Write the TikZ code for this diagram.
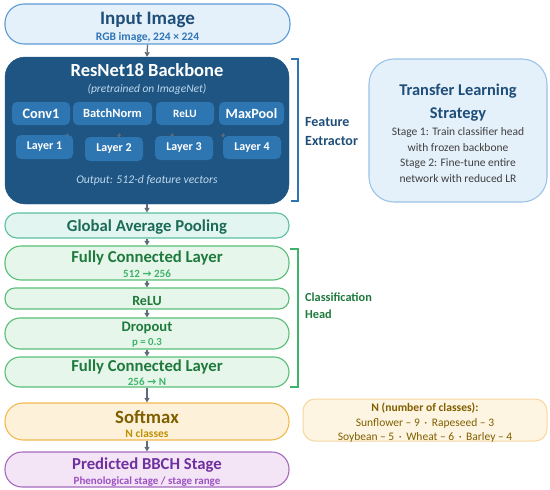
\documentclass[tikz,border=0pt]{standalone}
\usepackage{fontspec}
\setmainfont{Carlito}
\newfontfamily\symf{DejaVu Sans}
\usetikzlibrary{arrows.meta}
\definecolor{inFill}{HTML}{E4F0FA}
\definecolor{inDraw}{HTML}{5B9BD5}
\definecolor{navy}{HTML}{1F4E79}
\definecolor{inSub}{HTML}{2E75B6}
\definecolor{resFill}{HTML}{1F5582}
\definecolor{resInner}{HTML}{2E76B2}
\definecolor{resSub}{HTML}{BDD7EE}
\definecolor{trDraw}{HTML}{9DC3E6}
\definecolor{trText}{HTML}{404040}
\definecolor{gapFill}{HTML}{E3F5F1}
\definecolor{gapDraw}{HTML}{5BBFA0}
\definecolor{gapText}{HTML}{1B6B55}
\definecolor{fcFill}{HTML}{E7F6EA}
\definecolor{fcDraw}{HTML}{58BE76}
\definecolor{fcText}{HTML}{1E7A3C}
\definecolor{fcSub}{HTML}{3DB46A}
\definecolor{softFill}{HTML}{FDF2D9}
\definecolor{softDraw}{HTML}{F2B950}
\definecolor{softText}{HTML}{7F6000}
\definecolor{softSub}{HTML}{BF9000}
\definecolor{predFill}{HTML}{F3E5F6}
\definecolor{predDraw}{HTML}{A569BD}
\definecolor{predText}{HTML}{7030A0}
\definecolor{predSub}{HTML}{9B4FC4}
\definecolor{nFill}{HTML}{FDF4E1}
\definecolor{nDraw}{HTML}{F6D7A1}
\definecolor{arrGray}{HTML}{5F6B78}
\tikzset{
  box/.style={draw, line width=1.1pt, inner sep=0pt},
  inner/.style={fill=resInner, rounded corners=5pt, inner sep=0pt, text=white, font=\bfseries, minimum height=23pt},
  arr/.style={draw=arrGray, line width=1.2pt, -{Triangle[length=4.5pt,width=5pt]}},
  tinyarr/.style={draw=arrGray, line width=0.8pt, -{Triangle[length=3pt,width=4.5pt]}},
  txt/.style={inner sep=0pt, anchor=base},
}
\begin{document}
\begin{tikzpicture}[x=1pt,y=-1pt]
\useasboundingbox (0,0) rectangle (550,490);

% Input
\node[box, draw=inDraw, fill=inFill, rounded corners=19pt, minimum width=285pt, minimum height=40pt] (input) at (147.5,24) {};
\node[txt, text=navy, font=\bfseries\fontsize{19}{22}\selectfont] (inT) at (147.5,24.5) {Input Image};
\node[txt, text=inSub, font=\bfseries\fontsize{11.5}{13}\selectfont] (inS) at (147.5,40) {RGB image, 224 × 224};

% ResNet
\node[fill=resFill, draw=resFill, rounded corners=20pt, minimum width=284pt, minimum height=147pt, inner sep=0pt] (resnet) at (147,130.5) {};
\node[txt, text=white, font=\bfseries\fontsize{18.5}{21}\selectfont] (resT) at (147,76) {ResNet18 Backbone};
\node[txt, text=resSub, font=\itshape\fontsize{11.5}{13}\selectfont] (resP) at (147,92.5) {(pretrained on ImageNet)};
\node[inner, minimum width=58pt, font=\bfseries\fontsize{14.3}{16}\selectfont] (conv) at (41,113.5) {Conv1};
\node[inner, minimum width=79pt, font=\bfseries\fontsize{12.5}{14}\selectfont] (bn) at (112.5,113.5) {BatchNorm};
\node[inner, minimum width=58pt, font=\bfseries\fontsize{11.2}{13}\selectfont] (relu1) at (185,113.5) {ReLU};
\node[inner, minimum width=65pt, font=\bfseries\fontsize{14.1}{16}\selectfont] (mp) at (251.5,113.5) {MaxPool};
\coordinate (t1a) at (67,133); \coordinate (t1b) at (67,137.5);
\coordinate (t2a) at (119,133); \coordinate (t2b) at (119,137.5);
\coordinate (t3a) at (172,133); \coordinate (t3b) at (172,137.5);
\coordinate (t4a) at (223,133); \coordinate (t4b) at (223,137.5);
\draw[tinyarr] (t1a) -- (t1b);
\draw[tinyarr] (t2a) -- (t2b);
\draw[tinyarr] (t3a) -- (t3b);
\draw[tinyarr] (t4a) -- (t4b);
\node[inner, minimum width=57pt, minimum height=24pt, font=\bfseries\fontsize{12}{14}\selectfont] (l1) at (44.5,147) {Layer 1};
\node[inner, minimum width=58pt, minimum height=24pt, font=\bfseries\fontsize{12}{14}\selectfont] (l2) at (114,149) {Layer 2};
\node[inner, minimum width=58pt, minimum height=24pt, font=\bfseries\fontsize{12}{14}\selectfont] (l3) at (184,148) {Layer 3};
\node[inner, minimum width=58pt, minimum height=23pt, font=\bfseries\fontsize{12}{14}\selectfont] (l4) at (252,147.5) {Layer 4};
\node[txt, text=resSub, font=\itshape\fontsize{11.7}{13}\selectfont] (resO) at (147,183) {Output: 512-d feature vectors};

% Feature bracket
\coordinate (fb1) at (291,59); \coordinate (fb2) at (298,59);
\coordinate (fb3) at (298,201); \coordinate (fb4) at (291,201);
\draw[draw=inSub, line width=1.2pt] (fb1) -- (fb2) -- (fb3) -- (fb4);
\node[txt, anchor=base west, text=navy, font=\bfseries\fontsize{14}{16}\selectfont] (fe1) at (305,126.5) {Feature};
\node[txt, anchor=base west, text=navy, font=\bfseries\fontsize{14}{16}\selectfont] (fe2) at (305,145.5) {Extractor};

% Transfer learning box
\node[box, draw=trDraw, fill=inFill, rounded corners=25pt, minimum width=178pt, minimum height=143pt] (trans) at (458,130.5) {};
\node[txt, text=navy, font=\bfseries\fontsize{16.4}{19}\selectfont] (trT1) at (458,95) {Transfer Learning};
\node[txt, text=navy, font=\bfseries\fontsize{16.4}{19}\selectfont] (trT2) at (458,118) {Strategy};
\node[txt, text=trText, font=\fontsize{11.5}{13}\selectfont] (trB1) at (458,135) {Stage 1: Train classifier head};
\node[txt, text=trText, font=\fontsize{11.5}{13}\selectfont] (trB2) at (458,151) {with frozen backbone};
\node[txt, text=trText, font=\fontsize{11.5}{13}\selectfont] (trB3) at (458,166.5) {Stage 2: Fine-tune entire};
\node[txt, text=trText, font=\fontsize{11.5}{13}\selectfont] (trB4) at (458,182) {network with reduced LR};

% GAP
\node[box, draw=gapDraw, fill=gapFill, rounded corners=12pt, minimum width=284pt, minimum height=25pt] (gap) at (147,225.5) {};
\node[txt, text=gapText, font=\bfseries\fontsize{16.7}{19}\selectfont] (gapT) at (147,231) {Global Average Pooling};

% FC1
\node[box, draw=fcDraw, fill=fcFill, rounded corners=16pt, minimum width=284pt, minimum height=34pt] (fc1) at (147,263) {};
\node[txt, text=fcText, font=\bfseries\fontsize{16.7}{19}\selectfont] (fc1T) at (147,262.5) {Fully Connected Layer};
\node[txt, text=fcSub, font=\bfseries\fontsize{11}{13}\selectfont] (fc1S) at (147,277) {512 {\symf\bfseries\fontsize{11}{13}\selectfont →} 256};

% ReLU
\node[box, draw=fcDraw, fill=fcFill, rounded corners=10pt, minimum width=284pt, minimum height=21pt] (relu) at (147,298.5) {};
\node[txt, text=fcText, font=\bfseries\fontsize{14}{16}\selectfont] (reluT) at (147,305) {ReLU};

% Dropout
\node[box, draw=fcDraw, fill=fcFill, rounded corners=15pt, minimum width=284pt, minimum height=31pt] (drop) at (147,333.5) {};
\node[txt, text=fcText, font=\bfseries\fontsize{14.6}{17}\selectfont] (dropT) at (147,331.5) {Dropout};
\node[txt, text=fcSub, font=\bfseries\fontsize{10.8}{13}\selectfont] (dropS) at (147,345.5) {p = 0.3};

% FC2
\node[box, draw=fcDraw, fill=fcFill, rounded corners=15pt, minimum width=284pt, minimum height=30pt] (fc2) at (147,372) {};
\node[txt, text=fcText, font=\bfseries\fontsize{16.7}{19}\selectfont] (fc2T) at (147,371.5) {Fully Connected Layer};
\node[txt, text=fcSub, font=\bfseries\fontsize{11}{13}\selectfont] (fc2S) at (147,385.5) {256 {\symf\bfseries\fontsize{11}{13}\selectfont →} N};

% Classification bracket
\coordinate (cb1) at (290,249); \coordinate (cb2) at (298,249);
\coordinate (cb3) at (298,387); \coordinate (cb4) at (290,387);
\draw[draw=fcSub, line width=1.2pt] (cb1) -- (cb2) -- (cb3) -- (cb4);
\node[txt, anchor=base west, text=fcText, font=\bfseries\fontsize{12.3}{14}\selectfont] (ch1) at (305,301.5) {Classification};
\node[txt, anchor=base west, text=fcText, font=\bfseries\fontsize{12.3}{14}\selectfont] (ch2) at (305,318.5) {Head};

% Softmax
\node[box, draw=softDraw, fill=softFill, rounded corners=18pt, minimum width=284pt, minimum height=37pt] (soft) at (147,421.5) {};
\node[txt, text=softText, font=\bfseries\fontsize{18.7}{21}\selectfont] (softT) at (147,423.5) {Softmax};
\node[txt, text=softSub, font=\bfseries\fontsize{11.5}{13}\selectfont] (softS) at (147,437) {N classes};

% Predicted
\node[box, draw=predDraw, fill=predFill, rounded corners=17pt, minimum width=284pt, minimum height=35pt] (pred) at (147,469.5) {};
\node[txt, text=predText, font=\bfseries\fontsize{16.7}{19}\selectfont] (predT) at (147,469) {Predicted BBCH Stage};
\node[txt, text=predSub, font=\bfseries\fontsize{11}{13}\selectfont] (predS) at (147,484) {Phenological stage / stage range};

% N box
\node[box, draw=nDraw, fill=nFill, line width=1pt, rounded corners=12pt, minimum width=244pt, minimum height=42pt] (nbox) at (425,420) {};
\node[txt, text=softText, font=\bfseries\fontsize{11.6}{13}\selectfont] (n1) at (425,411) {N (number of classes):};
\node[txt, text=softText, font=\fontsize{11.5}{13}\selectfont] (n2) at (425,426) {Sunflower – 9 \,·\, Rapeseed – 3};
\node[txt, text=softText, font=\fontsize{11.5}{13}\selectfont] (n3) at (425,440) {Soybean – 5 \,·\, Wheat – 6 \,·\, Barley – 4};

% main arrows
\draw[arr] (input.south) -- (resnet.north);
\draw[arr] (resnet.south) -- (gap.north);
\draw[arr] (gap.south) -- (fc1.north);
\draw[arr] (fc1.south) -- (relu.north);
\draw[arr] (relu.south) -- (drop.north);
\draw[arr] (drop.south) -- (fc2.north);
\draw[arr] (fc2.south) -- (soft.north);
\draw[arr] (soft.south) -- (pred.north);
\end{tikzpicture}
\end{document}
